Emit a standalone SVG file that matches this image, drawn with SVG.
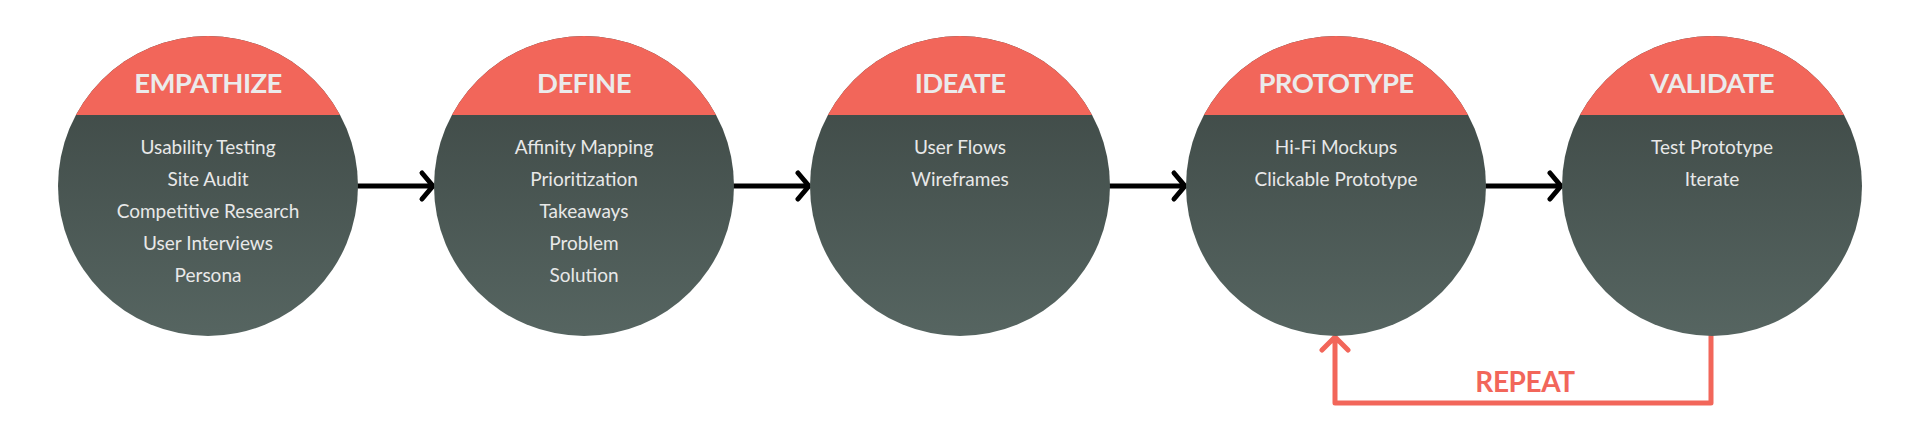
<svg xmlns="http://www.w3.org/2000/svg" width="1920" height="442" viewBox="0 0 1920 442">
<style>
.hdr{font-family:Lato,"Open Sans","Liberation Sans",sans-serif;font-weight:bold;font-size:27.5px;letter-spacing:-0.6px;fill:#ebebeb;text-anchor:middle}
.item{font-family:Lato,"Open Sans","Liberation Sans",sans-serif;font-size:19px;fill:#e8e8e8;text-anchor:middle}
.conn{fill:none;stroke:#000;stroke-width:5;stroke-linecap:round;stroke-linejoin:round}
.rep{fill:none;stroke:#f2665a;stroke-width:5;stroke-linecap:round;stroke-linejoin:round}
.replbl{font-family:Lato,"Open Sans","Liberation Sans",sans-serif;font-weight:bold;font-size:28px;letter-spacing:-0.4px;fill:#f2665a;text-anchor:middle}
</style>
<defs>
<linearGradient id="g" x1="0" y1="0" x2="0" y2="1">
<stop offset="0" stop-color="#3b4542"/>
<stop offset="1" stop-color="#566561"/>
</linearGradient>
<clipPath id="c" clipPathUnits="userSpaceOnUse"><circle cx="0" cy="0" r="150"/></clipPath>
<g id="disc">
<circle cx="0" cy="0" r="150" fill="url(#g)"/>
<rect x="-150" y="-150" width="300" height="79" fill="#f2665a" clip-path="url(#c)"/>
</g>
</defs>
<rect width="1920" height="442" fill="#fff"/>
<g id="connectors">
<path class="conn" d="M358 186H433M422 173L433 186L422 199"/>
<path class="conn" d="M734 186H809M798 173L809 186L798 199"/>
<path class="conn" d="M1110 186H1185M1174 173L1185 186L1174 199"/>
<path class="conn" d="M1486 186H1561M1550 173L1561 186L1550 199"/>
<path class="rep" d="M1711 336V403H1335V338M1322 350L1335 337L1348 350"/>
<text class="replbl" x="1525" y="392">REPEAT</text>
</g>
<g id="empathize" transform="translate(208,186)">
<use href="#disc"/>
<text class="hdr" x="0" y="-93">EMPATHIZE</text>
<text class="item" x="0" y="-32">Usability Testing</text>
<text class="item" x="0" y="0">Site Audit</text>
<text class="item" x="0" y="32">Competitive Research</text>
<text class="item" x="0" y="64">User Interviews</text>
<text class="item" x="0" y="96">Persona</text>
</g>
<g id="define" transform="translate(584,186)">
<use href="#disc"/>
<text class="hdr" x="0" y="-93">DEFINE</text>
<text class="item" x="0" y="-32">Affinity Mapping</text>
<text class="item" x="0" y="0">Prioritization</text>
<text class="item" x="0" y="32">Takeaways</text>
<text class="item" x="0" y="64">Problem</text>
<text class="item" x="0" y="96">Solution</text>
</g>
<g id="ideate" transform="translate(960,186)">
<use href="#disc"/>
<text class="hdr" x="0" y="-93">IDEATE</text>
<text class="item" x="0" y="-32">User Flows</text>
<text class="item" x="0" y="0">Wireframes</text>
</g>
<g id="prototype" transform="translate(1336,186)">
<use href="#disc"/>
<text class="hdr" x="0" y="-93">PROTOTYPE</text>
<text class="item" x="0" y="-32">Hi-Fi Mockups</text>
<text class="item" x="0" y="0">Clickable Prototype</text>
</g>
<g id="validate" transform="translate(1712,186)">
<use href="#disc"/>
<text class="hdr" x="0" y="-93">VALIDATE</text>
<text class="item" x="0" y="-32">Test Prototype</text>
<text class="item" x="0" y="0">Iterate</text>
</g>
</svg>
